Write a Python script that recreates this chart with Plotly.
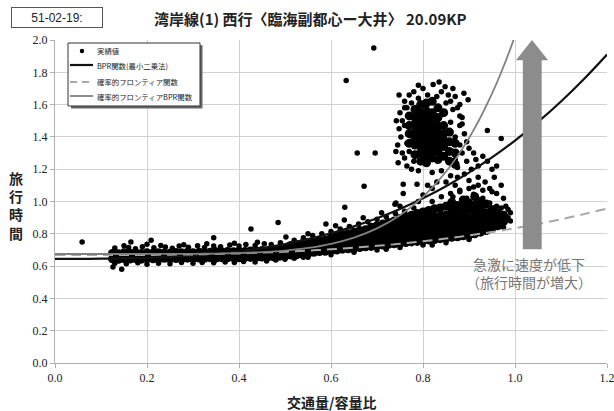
import plotly.graph_objects as go

# ---------------- data ----------------
# dense band of observations: column x positions and y values in each column
band_cols_x = [0.125, 0.138, 0.150, 0.163, 0.175, 0.188, 0.200, 0.213, 0.225, 0.238,
               0.250, 0.263, 0.275, 0.288, 0.300, 0.313, 0.325, 0.338, 0.350, 0.363,
               0.375, 0.388, 0.400, 0.413, 0.425, 0.438, 0.450, 0.463, 0.475, 0.488,
               0.500,
               0.5125, 0.525, 0.5375, 0.55, 0.5625, 0.575, 0.5875, 0.6, 0.6125, 0.625,
               0.6375, 0.65, 0.6625, 0.675, 0.6875, 0.7, 0.7125, 0.725, 0.7375, 0.75,
               0.7625, 0.775, 0.7875, 0.8, 0.8125, 0.825, 0.8375, 0.85, 0.8625, 0.875,
               0.8875, 0.9, 0.9125, 0.925, 0.9375, 0.95, 0.9625, 0.975]
band_cols_y = [
    [0.645, 0.678], [0.642, 0.676], [0.646, 0.682], [0.644, 0.679], [0.647, 0.683],
    [0.643, 0.678], [0.646, 0.682], [0.645, 0.680], [0.644, 0.683], [0.648, 0.681],
    [0.646, 0.679], [0.647, 0.684], [0.645, 0.682], [0.649, 0.686], [0.648, 0.683],
    [0.650, 0.685], [0.648, 0.688], [0.651, 0.686], [0.650, 0.689], [0.652, 0.687],
    [0.651, 0.690], [0.653, 0.689], [0.652, 0.692], [0.655, 0.691], [0.654, 0.694],
    [0.656, 0.693], [0.656, 0.696], [0.658, 0.695], [0.658, 0.699], [0.661, 0.702],
    [0.662, 0.706],
    [0.668, 0.700, 0.728], [0.670, 0.702, 0.732], [0.674, 0.706, 0.738],
    [0.678, 0.710, 0.745], [0.686, 0.716, 0.748], [0.690, 0.720, 0.755],
    [0.692, 0.725, 0.760], [0.698, 0.730, 0.765, 0.775], [0.700, 0.735, 0.770, 0.785],
    [0.705, 0.740, 0.775, 0.795], [0.707, 0.740, 0.775, 0.800],
    [0.712, 0.745, 0.780, 0.810], [0.715, 0.750, 0.785, 0.820],
    [0.720, 0.755, 0.790, 0.825], [0.722, 0.758, 0.793, 0.830, 0.840],
    [0.728, 0.762, 0.797, 0.830, 0.850], [0.730, 0.765, 0.800, 0.835, 0.860],
    [0.735, 0.770, 0.805, 0.840, 0.870], [0.738, 0.773, 0.808, 0.845, 0.880],
    [0.743, 0.778, 0.813, 0.850, 0.885, 0.895], [0.746, 0.780, 0.815, 0.850, 0.885, 0.905],
    [0.750, 0.785, 0.820, 0.855, 0.890, 0.915], [0.753, 0.790, 0.825, 0.860, 0.895, 0.925],
    [0.758, 0.795, 0.830, 0.865, 0.900, 0.935],
    [0.762, 0.800, 0.835, 0.870, 0.905, 0.945],
    [0.765, 0.800, 0.835, 0.870, 0.905, 0.955],
    [0.770, 0.805, 0.840, 0.875, 0.910, 0.960],
    [0.774, 0.810, 0.845, 0.880, 0.915, 0.970],
    [0.778, 0.815, 0.850, 0.885, 0.920, 0.955, 0.995],
    [0.782, 0.820, 0.855, 0.890, 0.925, 0.975],
    [0.788, 0.825, 0.860, 0.895, 0.930, 0.965, 1.010],
    [0.792, 0.830, 0.865, 0.900, 0.950, 0.990],
    [0.800, 0.835, 0.870, 0.905, 0.940, 0.975, 1.030],
    [0.810, 0.845, 0.880, 0.915, 0.960, 1.000],
    [0.820, 0.855, 0.890, 0.930, 0.985],
    [0.835, 0.870, 0.905, 0.950],
    [0.850, 0.890, 0.930],
    [0.875, 0.915],
]

# dense congested cluster (upper blob)
blob_cols_x = [0.770, 0.7825, 0.795, 0.8075, 0.820, 0.8325, 0.845, 0.8575, 0.870]
blob_cols_y = [
    [1.36, 1.42, 1.47, 1.53],
    [1.29, 1.35, 1.39, 1.43, 1.48, 1.52, 1.57],
    [1.25, 1.30, 1.34, 1.38, 1.42, 1.46, 1.50, 1.55, 1.60],
    [1.24, 1.28, 1.32, 1.36, 1.40, 1.44, 1.48, 1.52, 1.56, 1.61],
    [1.27, 1.31, 1.35, 1.39, 1.43, 1.47, 1.51, 1.55, 1.62],
    [1.26, 1.31, 1.35, 1.39, 1.43, 1.47, 1.52, 1.58],
    [1.28, 1.34, 1.38, 1.42, 1.47, 1.55],
    [1.25, 1.31, 1.37, 1.43],
    [1.23, 1.30, 1.36],
]

# scattered individual observations (x, y)
outlier_pts = [(0.059, 0.75), (0.633, 1.75), (0.693, 1.95), (0.657, 1.30), (0.696, 1.30),
               (0.741, 1.31), (0.630, 0.965), (0.629, 0.885), (0.589, 0.86), (0.426, 0.83),
               (0.485, 0.87), (0.502, 0.78), (0.165, 0.75), (0.209, 0.76), (0.345, 0.775),
               (0.126, 0.595), (0.145, 0.58), (0.672, 1.095), (0.757, 1.107), (0.787, 1.107),
               (0.757, 1.05), (0.741, 0.99), (0.739, 0.983)]
band_edge_pts = [(0.13, 0.712), (0.16, 0.715), (0.175, 0.708), (0.19, 0.72), (0.215, 0.714),
                 (0.24, 0.718), (0.255, 0.71), (0.27, 0.724), (0.29, 0.716), (0.31, 0.726),
                 (0.325, 0.715), (0.345, 0.725), (0.36, 0.72), (0.38, 0.73), (0.40, 0.724),
                 (0.415, 0.733), (0.435, 0.728), (0.455, 0.738), (0.47, 0.733), (0.49, 0.744),
                 (0.23, 0.728), (0.28, 0.732), (0.33, 0.738), (0.39, 0.742), (0.44, 0.748),
                 (0.20, 0.735), (0.15, 0.726),
                 (0.13, 0.618), (0.155, 0.615), (0.18, 0.62), (0.2, 0.612), (0.225, 0.618),
                 (0.25, 0.615), (0.275, 0.622), (0.3, 0.618), (0.32, 0.622), (0.345, 0.62),
                 (0.37, 0.625), (0.39, 0.622), (0.41, 0.628), (0.435, 0.626), (0.46, 0.632),
                 (0.48, 0.638), (0.5, 0.642), (0.52, 0.648), (0.54, 0.655),
                 (0.52, 0.76), (0.54, 0.775), (0.56, 0.79), (0.58, 0.80), (0.60, 0.815),
                 (0.62, 0.83), (0.64, 0.845), (0.66, 0.86), (0.68, 0.875), (0.70, 0.89),
                 (0.72, 0.905), (0.74, 0.925), (0.76, 0.94), (0.78, 0.96), (0.55, 0.80),
                 (0.61, 0.85), (0.67, 0.90), (0.71, 0.93), (0.75, 0.97), (0.79, 1.0),
                 (0.82, 1.0), (0.84, 1.03), (0.86, 1.05), (0.88, 1.06), (0.90, 1.08),
                 (0.92, 1.10), (0.93, 1.07), (0.95, 1.06), (0.91, 1.045), (0.895, 1.02),
                 (0.93, 1.02), (0.945, 0.99), (0.96, 0.97), (0.955, 0.93), (0.97, 0.96),
                 (0.985, 0.95), (0.99, 0.88), (0.975, 0.84), (0.96, 0.86), (0.865, 1.03),
                 (0.55, 0.655), (0.6, 0.67), (0.65, 0.685), (0.7, 0.70), (0.75, 0.715),
                 (0.8, 0.73), (0.85, 0.745), (0.9, 0.765), (0.82, 0.73), (0.72, 0.705)]
blob_edge_pts = [(0.748, 1.66), (0.822, 1.725), (0.835, 1.74), (0.848, 1.71), (0.865, 1.70),
                 (0.889, 1.67), (0.898, 1.63), (0.78, 1.68), (0.80, 1.70), (0.81, 1.66),
                 (0.79, 1.64), (0.76, 1.62), (0.855, 1.66), (0.87, 1.65), (0.84, 1.68),
                 (0.88, 1.60), (0.875, 1.58), (0.86, 1.62), (0.79, 1.72), (0.77, 1.66),
                 (0.83, 1.65), (0.85, 1.61), (0.865, 1.57), (0.88, 1.53), (0.885, 1.48),
                 (0.765, 1.58), (0.775, 1.61), (0.76, 1.47), (0.77, 1.31), (0.78, 1.25),
                 (0.75, 1.55), (0.755, 1.50), (0.748, 1.45), (0.752, 1.40), (0.745, 1.35),
                 (0.755, 1.30), (0.76, 1.27), (0.746, 1.24), (0.765, 1.22), (0.775, 1.20),
                 (0.79, 1.19), (0.76, 1.58), (0.765, 1.36), (0.742, 1.50),
                 (0.885, 1.52), (0.88, 1.47), (0.89, 1.42), (0.895, 1.37), (0.90, 1.33),
                 (0.91, 1.30), (0.915, 1.26), (0.92, 1.22), (0.93, 1.28), (0.94, 1.25),
                 (0.94, 1.44), (0.97, 1.39), (0.95, 1.20), (0.885, 1.30), (0.895, 1.25),
                 (0.905, 1.20), (0.89, 1.17), (0.875, 1.15), (0.90, 1.13), (0.92, 1.15),
                 (0.935, 1.12), (0.955, 1.15), (0.96, 1.22), (0.86, 1.16), (0.84, 1.19),
                 (0.82, 1.18), (0.85, 1.12), (0.87, 1.10), (0.88, 1.07), (0.91, 1.09),
                 (0.945, 1.08), (0.96, 1.05), (0.97, 1.10), (0.975, 1.02), (0.98, 0.97),
                 (0.99, 0.93), (0.985, 0.90), (0.97, 0.88), (0.80, 1.04), (0.82, 1.08),
                 (0.83, 1.12), (0.81, 1.10), (0.875, 1.21), (0.87, 1.26), (0.88, 1.35),
                 (0.87, 1.40), (0.86, 1.49)]

# fitted curves (values read at x steps)
curve_x = [0.0, 0.05, 0.1, 0.15, 0.2, 0.25, 0.3, 0.35, 0.4, 0.45, 0.5, 0.55, 0.6,
           0.65, 0.7, 0.75, 0.8, 0.85, 0.9, 0.95, 1.0, 1.05, 1.1, 1.15, 1.2]
bpr_ls_y = [0.645, 0.6451, 0.6457, 0.6475, 0.6509, 0.6564, 0.6648, 0.6764, 0.6919, 0.7117,
            0.7365, 0.7668, 0.8031, 0.8460, 0.8961, 0.9538, 1.0198, 1.0946, 1.1787, 1.2727,
            1.3771, 1.4925, 1.6194, 1.7584, 1.9100]
frontier_y = [0.668, 0.668, 0.6682, 0.6686, 0.6693, 0.6706, 0.6725, 0.6752, 0.6787, 0.6832,
              0.6889, 0.6958, 0.7041, 0.7139, 0.7253, 0.7385, 0.7535, 0.7706, 0.7897, 0.8112,
              0.835, 0.8613, 0.8903, 0.9220, 0.9566]
frontier_bpr_y = [0.675, 0.675, 0.675, 0.675, 0.6751, 0.6753, 0.6760, 0.6775, 0.6805, 0.6862,
                  0.6961, 0.7124, 0.7380, 0.7768, 0.8338, 0.9153, 1.0289, 1.1842, 1.3925,
                  1.6674, 2.0250, 2.4841]

x_ticks = [0.0, 0.2, 0.4, 0.6, 0.8, 1.0, 1.2]
y_ticks = [0.0, 0.2, 0.4, 0.6, 0.8, 1.0, 1.2, 1.4, 1.6, 1.8, 2.0]

legend_names = ["実績値", "BPR関数(最小二乗法)", "確率的フロンティア関数", "確率的フロンティアBPR関数"]
title_text = "湾岸線(1) 西行〈臨海副都心ー大井〉 20.09KP"
code_text = "51-02-19:"
note_text = "急激に速度が低下<br>（旅行時間が増大）"
xlabel = "交通量/容量比"
ylabel = "旅<br>行<br>時<br>間"

# ---------------- figure ----------------
JP = "Noto Sans CJK JP"
SERIF = "Liberation Serif"
BPR_COLOR, FR_COLOR, FRBPR_COLOR = "#111111", "#a8a8a8", "#808080"

core_x = [x for x, ys in zip(band_cols_x, band_cols_y) for _ in ys] + \
         [x for x, ys in zip(blob_cols_x, blob_cols_y) for _ in ys]
core_y = [y for ys in band_cols_y for y in ys] + [y for ys in blob_cols_y for y in ys]
pts = outlier_pts + band_edge_pts + blob_edge_pts

fig = go.Figure()
fig.add_trace(go.Scatter(x=[p[0] for p in pts], y=[p[1] for p in pts], mode="markers",
                         name=legend_names[0], marker=dict(color="black", size=5.5)))
fig.add_trace(go.Scatter(x=core_x, y=core_y, mode="markers",
                         marker=dict(color="black", size=9), hoverinfo="skip"))
fig.add_trace(go.Scatter(x=curve_x, y=bpr_ls_y, mode="lines", name=legend_names[1],
                         line=dict(color=BPR_COLOR, width=2.2, shape="spline")))
fig.add_trace(go.Scatter(x=curve_x, y=frontier_y, mode="lines", name=legend_names[2],
                         line=dict(color=FR_COLOR, width=2, dash="10px,6px", shape="spline")))
fig.add_trace(go.Scatter(x=curve_x[:len(frontier_bpr_y)], y=frontier_bpr_y, mode="lines",
                         name=legend_names[3],
                         line=dict(color=FRBPR_COLOR, width=1.8, shape="spline")))

# big gray arrow
fig.add_shape(type="path", xref="x", yref="y",
              path="M 1.017,0.705 L 1.017,1.874 L 1.002,1.874 L 1.037,2.0 L 1.072,1.874 "
                   "L 1.058,1.874 L 1.058,0.705 Z",
              fillcolor="#8c8c8c", line=dict(width=0), layer="above")

# legend box (drawn by hand to match the compact original)
fig.add_shape(type="rect", xref="paper", yref="paper", x0=0.029, x1=0.2672, y0=0.788, y1=0.984,
              fillcolor="#666666", line=dict(width=0), layer="above")
fig.add_shape(type="rect", xref="paper", yref="paper", x0=0.0236, x1=0.2627, y0=0.7957,
              y1=0.9907, fillcolor="white", line=dict(color="#333333", width=1), layer="above")
leg_rows = [0.966, 0.9226, 0.870, 0.8266]
fig.add_shape(type="circle", xref="paper", yref="paper", x0=0.0449, x1=0.0529,
              y0=leg_rows[0] - 0.0068, y1=leg_rows[0] + 0.0068, fillcolor="black",
              line=dict(width=0), layer="above")
for row, col, wid, dash in [(leg_rows[1], BPR_COLOR, 2.2, "solid"),
                            (leg_rows[2], FR_COLOR, 2, "7px,5px"),
                            (leg_rows[3], FRBPR_COLOR, 1.8, "solid")]:
    fig.add_shape(type="line", xref="paper", yref="paper", x0=0.0272, x1=0.0688, y0=row, y1=row,
                  line=dict(color=col, width=wid, dash=dash), layer="above")
for row, name in zip(leg_rows, legend_names):
    fig.add_annotation(x=0.0725, y=row, xref="paper", yref="paper", text=name, showarrow=False,
                       xanchor="left", yanchor="middle",
                       font=dict(family=JP, size=7.4, color="#222222"))

fig.add_annotation(x=1.03, y=0.557, xref="x", yref="y", text=note_text, showarrow=False,
                   xanchor="center", yanchor="middle",
                   font=dict(family=JP, size=14, color="#777777"), align="center")
fig.add_annotation(x=0.462, y=1.068, xref="paper", yref="paper", text="<b>" + title_text + "</b>",
                   showarrow=False, xanchor="center", yanchor="middle",
                   font=dict(family=JP, size=15, color="#222222"))
fig.add_annotation(x=0.0045, y=1.071, xref="paper", yref="paper", text=code_text,
                   showarrow=False, xanchor="center", yanchor="middle",
                   font=dict(family="Liberation Sans", size=12, color="#222222"),
                   width=88, height=17, bordercolor="#555555", borderwidth=1, borderpad=1,
                   bgcolor="white")
fig.add_annotation(x=0.5, y=-0.121, xref="paper", yref="paper", text="<b>" + xlabel + "</b>",
                   showarrow=False, xanchor="center", yanchor="middle",
                   font=dict(family=JP, size=14, color="#222222"))
fig.add_annotation(x=-0.0707, y=0.489, xref="paper", yref="paper", text="<b>" + ylabel + "</b>",
                   showarrow=False, xanchor="center", yanchor="middle",
                   font=dict(family=JP, size=14, color="#222222"))

fig.update_xaxes(range=[0, 1.2], tickvals=x_ticks, ticktext=[f"{v:.1f}" for v in x_ticks],
                 showgrid=True, gridcolor="#d2d2d2", gridwidth=1, zeroline=False,
                 showline=True, linecolor="#b0b0b0", ticks="outside", ticklen=4,
                 tickcolor="#b0b0b0", ticklabeloverflow="allow", automargin=False,
                 tickfont=dict(family=SERIF, size=12, color="#222222"))
fig.update_yaxes(range=[0, 2.0], tickvals=y_ticks, ticktext=[f"{v:.1f}" for v in y_ticks],
                 showgrid=True, gridcolor="#d2d2d2", gridwidth=1, zeroline=False,
                 showline=True, linecolor="#b0b0b0", ticks="outside", ticklen=4,
                 tickcolor="#b0b0b0", ticklabeloverflow="allow", automargin=False,
                 tickfont=dict(family=SERIF, size=12, color="#222222"))

fig.update_layout(
    width=614, height=411,
    margin=dict(l=55, r=7, t=40, b=48),
    paper_bgcolor="white", plot_bgcolor="white",
    showlegend=False,
    hovermode=False,
)

# remove the default page margin so the 614x411 figure fills the window exactly
fig.write_html("out.html",
               config={"displayModeBar": False, "staticPlot": True},
               post_script="document.body.style.margin='0px';"
                           "document.body.style.overflow='hidden';")
